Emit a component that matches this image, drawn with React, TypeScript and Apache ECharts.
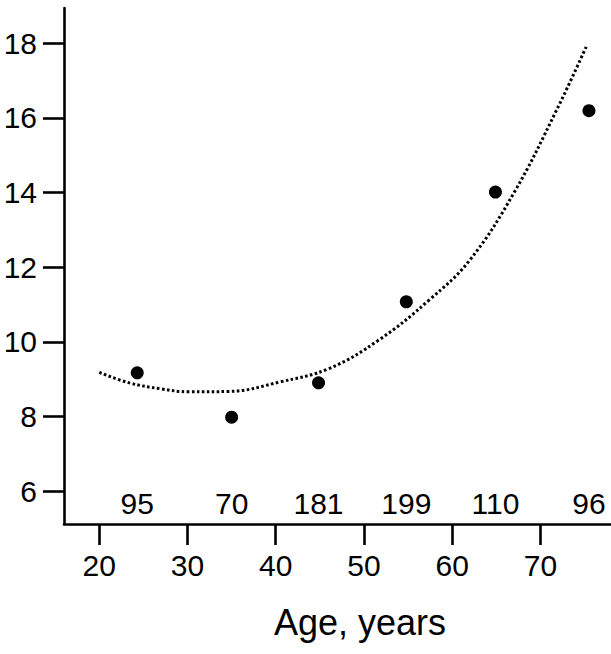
import React, { useEffect, useRef } from "react";
import * as echarts from "echarts";

// Mean age of each group (x) and observed value (y)
const pointAges = [24.3, 35.0, 44.85, 54.8, 64.9, 75.5];
const pointValues = [9.17, 7.98, 8.9, 11.07, 14.01, 16.19];
// Number of subjects in each age group
const groupCounts = [95, 70, 181, 199, 110, 96];
const countLabelLevel = 5.66;

// Fitted trend curve
const curveAges = [20, 23.4, 27, 30.2, 34.7, 40.4, 46.1, 51.7, 57.4, 62.0, 67.05, 71.8, 75.25];
const curveValues = [9.18, 8.9, 8.74, 8.66, 8.67, 8.92, 9.29, 10.05, 11.12, 12.19, 14.01, 16.19, 17.93];

const xTicks = [20, 30, 40, 50, 60, 70];
const yTicks = [6, 8, 10, 12, 14, 16, 18];
const xAxisTitle = "Age, years";

const FONT = "'Liberation Sans', Arial, Helvetica, sans-serif";

export default function App() {
  const ref = useRef<HTMLDivElement>(null);

  useEffect(() => {
    if (!ref.current) return;
    const chart = echarts.init(ref.current, undefined, { renderer: "svg" });
    const axisLine = { show: true, lineStyle: { color: "#000", width: 2.6 } };
    const axisTickBase = { show: true, length: 21, inside: false, lineStyle: { color: "#000", width: 2.6 } };
    chart.setOption({
      animation: false,
      backgroundColor: "#fff",
      grid: { left: 64, right: 0, top: 8, bottom: 130, containLabel: false },
      xAxis: {
        type: "value",
        min: 16,
        max: 78,
        axisLine: { ...axisLine, onZero: false },
        axisTick: { ...axisTickBase, customValues: xTicks },
        axisLabel: {
          customValues: xTicks,
          color: "#000",
          fontSize: 30,
          fontFamily: FONT,
          margin: 26,
        },
        splitLine: { show: false },
      },
      yAxis: {
        type: "value",
        min: 5.12,
        max: 18.94,
        axisLine: { ...axisLine, onZero: false },
        axisTick: { ...axisTickBase, customValues: yTicks },
        axisLabel: {
          customValues: yTicks,
          color: "#000",
          fontSize: 30,
          fontFamily: FONT,
          margin: 27,
        },
        splitLine: { show: false },
      },
      graphic: [
        {
          type: "text",
          x: 360,
          y: 622,
          style: {
            text: xAxisTitle,
            fontSize: 36,
            fontFamily: FONT,
            fill: "#000",
            textAlign: "center",
            textVerticalAlign: "middle",
          },
        },
      ],
      series: [
        {
          type: "line",
          data: curveAges.map((a, i) => [a, curveValues[i]]),
          smooth: 0.4,
          showSymbol: false,
          symbol: "none",
          lineStyle: { color: "#000", width: 3, type: [2.6, 2.4], cap: "butt" },
          silent: true,
          z: 2,
        },
        {
          type: "scatter",
          data: pointAges.map((a, i) => [a, pointValues[i]]),
          symbol: "circle",
          symbolSize: 13,
          itemStyle: { color: "#000", opacity: 1 },
          z: 3,
        },
        {
          type: "scatter",
          data: pointAges.map((a, i) => [a, countLabelLevel, groupCounts[i]]),
          symbolSize: 0,
          itemStyle: { color: "#000", opacity: 1 },
          label: {
            show: true,
            position: "inside",
            formatter: (p: any) => String(p.value[2]),
            color: "#000",
            opacity: 1,
            fontSize: 30,
            fontFamily: FONT,
          },
          silent: true,
          z: 4,
        },
      ],
    });
    return () => chart.dispose();
  }, []);

  return (
    <div
      ref={ref}
      style={{ position: "absolute", left: 0, top: 0, width: 611, height: 654, background: "#fff" }}
    />
  );
}
